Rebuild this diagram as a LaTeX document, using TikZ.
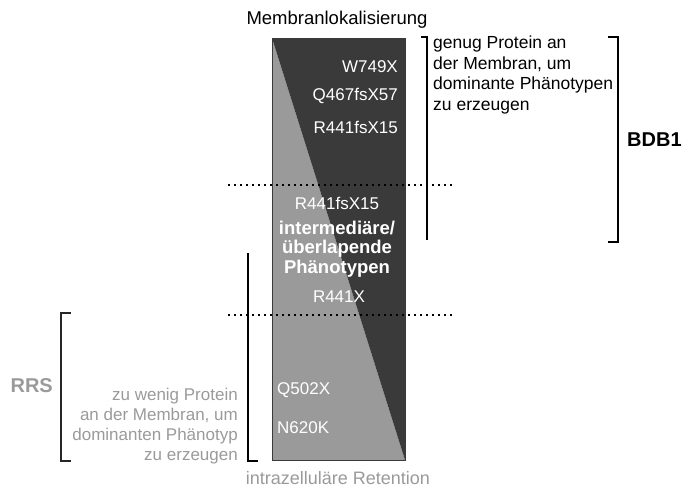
\documentclass[tikz,border=0pt]{standalone}
\usepackage{fontspec}
\setmainfont{Liberation Sans}
\definecolor{darkfill}{HTML}{3A3A3A}
\definecolor{lightfill}{HTML}{9A9A9A}
\definecolor{graytext}{HTML}{9A9A9A}
\tikzset{
  lbl/.style={inner sep=0pt, font=\fontsize{17}{20}\selectfont},
  biglbl/.style={inner sep=0pt, font=\bfseries\fontsize{20}{22}\selectfont},
  inlbl/.style={lbl, text=white},
  brk/.style={line width=2.4pt, black},
  dotline/.style={line width=2.4pt, dash pattern=on 2.4pt off 3.6pt, black}
}
\begin{document}
\begin{tikzpicture}[x=1pt,y=-1pt]
\useasboundingbox (0,0) rectangle (683,491);
\begin{scope}
\clip (0,0) rectangle (683,491);
% bar
\coordinate (tl) at (272,38);
\coordinate (tr) at (405,38);
\coordinate (br) at (405,460);
\coordinate (bl) at (272,460);
\fill[lightfill] (tl) -- (br) -- (bl) -- cycle;
\fill[darkfill] (tl) -- (tr) -- (br) -- cycle;
\draw[line width=1pt, darkfill] (tl) rectangle (br);
% dotted lines
\coordinate (d1a) at (228,185); \coordinate (d1b) at (454,185);
\coordinate (d2a) at (228,315); \coordinate (d2b) at (454,315);
\draw[dotline] (d1a) -- (d1b);
\draw[dotline] (d2a) -- (d2b);
% brackets
\coordinate (b1t) at (421,37); \coordinate (b1c) at (427,37); \coordinate (b1b) at (427,240);
\draw[brk] (b1t) -- (b1c) -- (b1b);
\coordinate (b2t) at (608,37); \coordinate (b2c) at (618,37); \coordinate (b2d) at (618,242); \coordinate (b2b) at (608,242);
\draw[brk] (b2t) -- (b2c) -- (b2d) -- (b2b);
\coordinate (b3t) at (248,253); \coordinate (b3c) at (248,461); \coordinate (b3b) at (258,461);
\draw[brk] (b3t) -- (b3c) -- (b3b);
\coordinate (b4t) at (71,313); \coordinate (b4c) at (61,313); \coordinate (b4d) at (61,461); \coordinate (b4b) at (71,461);
\draw[brk, line width=2pt, black!85] (b4t) -- (b4c) -- (b4d) -- (b4b);
% outer labels
\node[lbl, font=\fontsize{18.5}{20}\selectfont] (top) at (337,20) {Membranlokalisierung};
\node[lbl, font=\fontsize{18}{20}\selectfont, text=graytext] (bottom) at (338,478) {intrazelluläre Retention};
\node[lbl, anchor=west, align=left, font=\fontsize{17.5}{20.5}\selectfont] (genug) at (433,75) {genug Protein an\\der Membran, um\\dominante Phänotypen\\zu erzeugen};
\node[lbl, anchor=east, align=right, text=graytext, font=\fontsize{17}{20.2}\selectfont] (wenig) at (238,426) {zu wenig Protein\\an der Membran, um\\dominanten Phänotyp\\zu erzeugen};
\node[biglbl, anchor=west] (bdb) at (627,139.5) {BDB1};
\node[biglbl, anchor=east, text=graytext] (rrs) at (53,386) {RRS};
% inner labels
\node[inlbl, anchor=east] (w749) at (398,67) {W749X};
\node[inlbl, anchor=east] (q467) at (398,96) {Q467fsX57};
\node[inlbl, anchor=east] (r441a) at (398,127) {R441fsX15};
\node[inlbl] (r441b) at (337,203) {R441fsX15};
\node[inlbl, align=center, font=\bfseries\fontsize{18.5}{19.5}\selectfont] (inter) at (337,249) {intermediäre/\\überlapende\\Phänotypen};
\node[inlbl] (r441x) at (339,297) {R441X};
\node[inlbl, anchor=west] (q502) at (277,390) {Q502X};
\node[inlbl, anchor=west] (n620) at (277,428) {N620K};
\end{scope}
\end{tikzpicture}
\end{document}
